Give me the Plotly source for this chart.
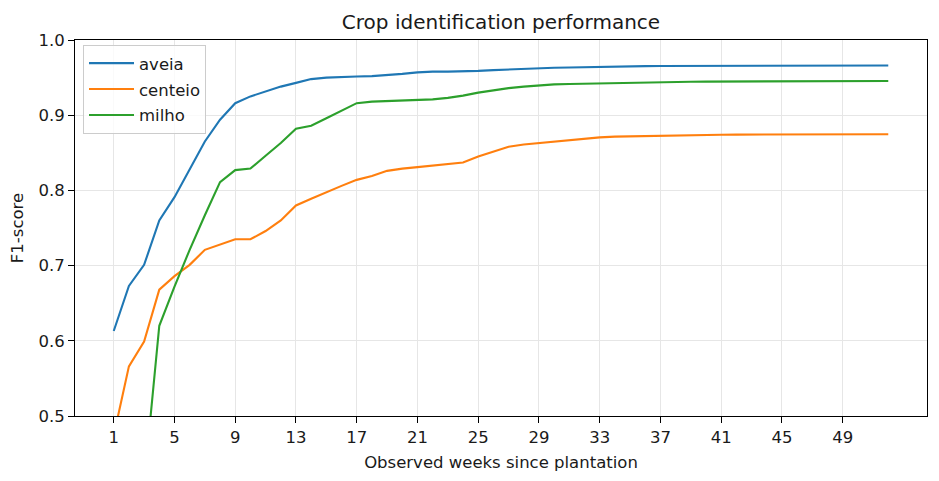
import plotly.graph_objects as go

weeks = list(range(1, 53))

aveia = [0.613, 0.673, 0.701, 0.760, 0.791, 0.827, 0.865, 0.894, 0.916, 0.925,
         0.932, 0.938, 0.943, 0.948, 0.950, 0.951, 0.9515, 0.952, 0.953, 0.955,
         0.957, 0.958, 0.958, 0.958, 0.959, 0.960, 0.961, 0.962, 0.9625, 0.963,
         0.9635, 0.964, 0.9645, 0.965, 0.965, 0.9652, 0.9655, 0.9656, 0.9657, 0.9658,
         0.9658, 0.9659, 0.966, 0.966, 0.966, 0.966, 0.966, 0.966, 0.966, 0.966,
         0.966, 0.966]

centeio = [0.474, 0.566, 0.599, 0.668, 0.686, 0.701, 0.721, 0.728, 0.735, 0.735,
           0.746, 0.760, 0.780, 0.789, 0.798, 0.806, 0.814, 0.819, 0.826, 0.829,
           0.831, 0.833, 0.835, 0.837, 0.845, 0.852, 0.858, 0.861, 0.863, 0.865,
           0.867, 0.869, 0.8705, 0.8715, 0.872, 0.8725, 0.873, 0.8733, 0.8735, 0.8737,
           0.874, 0.8742, 0.8743, 0.8744, 0.8745, 0.8746, 0.8747, 0.8747, 0.8747, 0.8747,
           0.8747, 0.8747]

milho = [0.30, 0.36, 0.41, 0.620, 0.672, 0.721, 0.767, 0.811, 0.827, 0.829,
         0.846, 0.863, 0.882, 0.886, 0.896, 0.906, 0.916, 0.918, 0.919, 0.920,
         0.920, 0.921, 0.923, 0.926, 0.930, 0.933, 0.936, 0.938, 0.940, 0.941,
         0.9415, 0.942, 0.9425, 0.943, 0.9435, 0.944, 0.9445, 0.9445, 0.9445, 0.9447,
         0.9448, 0.945, 0.945, 0.9452, 0.9453, 0.9455, 0.9455, 0.9455, 0.9455, 0.9455,
         0.9455, 0.9455]

series = [("aveia", aveia, "#1f77b4"), ("centeio", centeio, "#ff7f0e"), ("milho", milho, "#2ca02c")]

xticks = list(range(1, 53, 4))
yticks = [0.5, 0.6, 0.7, 0.8, 0.9, 1.0]

FONT = "DejaVu Sans"
FS = 16.5

fig = go.Figure()
for name, vals, color in series:
    fig.add_trace(go.Scatter(x=weeks, y=vals, mode="lines", name=name, legendgroup=name,
                             line=dict(color=color, width=2.1)))

axis_common = dict(showline=True, linecolor="black", linewidth=1.1, mirror=True,
                   ticks="outside", ticklen=6, tickwidth=1.1, tickcolor="black",
                   showgrid=True, gridcolor="#e6e6e6", gridwidth=1, zeroline=False,
                   tickfont=dict(family=FONT, size=FS, color="#1a1a1a"))

fig.update_layout(
    width=939, height=481,
    margin=dict(l=75, r=12, t=40, b=65),
    paper_bgcolor="white", plot_bgcolor="white",
    title=dict(text="Crop identification performance", xref="paper", x=0.5, xanchor="center",
               y=1 - 22 / 481, yanchor="middle",
               font=dict(family=FONT, size=20, color="#1a1a1a")),
    xaxis=dict(range=[-1.55, 54.55], tickvals=xticks,
               title=dict(text="Observed weeks since plantation", standoff=10,
                          font=dict(family=FONT, size=FS, color="#1a1a1a")),
               **axis_common),
    yaxis=dict(range=[0.5, 1.0], tickvals=yticks, tickformat=".1f",
               title=dict(text="F1-score", standoff=10,
                          font=dict(family=FONT, size=FS, color="#1a1a1a")),
               **axis_common),
    legend=dict(x=0.0094, y=0.987, xanchor="left", yanchor="top",
                bgcolor="rgba(255,255,255,0.8)", bordercolor="#cccccc", borderwidth=1,
                font=dict(family=FONT, size=FS, color="#1a1a1a"),
                itemwidth=45, traceorder="grouped", tracegroupgap=1.5),
    showlegend=True,
)

fig.write_html("out.html")
